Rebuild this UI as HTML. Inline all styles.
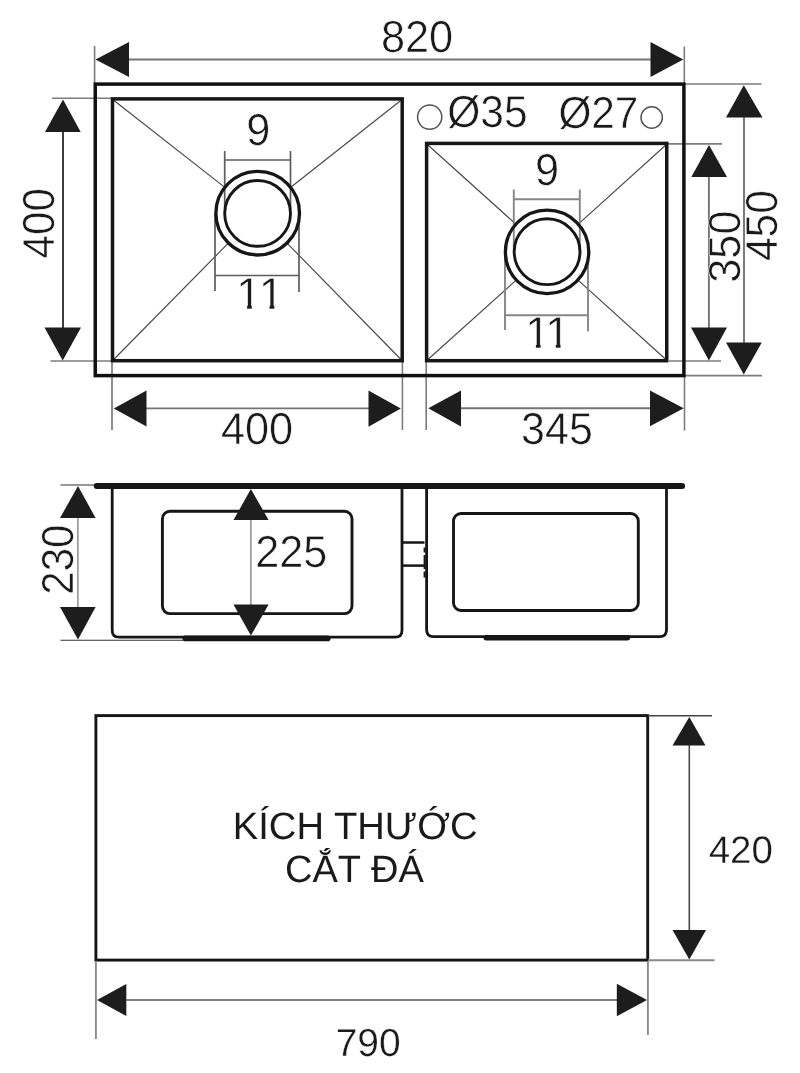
<!DOCTYPE html>
<html lang="vi">
<head>
<meta charset="utf-8">
<title>Kích thước cắt đá</title>
<style>
html,body{margin:0;padding:0;background:#fff;}
body{width:800px;height:1073px;overflow:hidden;}
svg{display:block;will-change:transform;}
svg text{font-family:"Liberation Sans",sans-serif;fill:#1a1a1a;stroke:#fff;stroke-width:0.55px;paint-order:fill stroke;text-rendering:geometricPrecision;}
.k{stroke:#161616;fill:none;}
.d{stroke:#747474;stroke-width:1.9;fill:none;}
.e{stroke:#7c7c7c;stroke-width:1.6;fill:none;}
.a{fill:#1d1d1d;stroke:none;}
.t1{font-size:44.8px;}
.t2{font-size:38px;stroke:none;}
</style>
</head>
<body>
<svg width="800" height="1073" viewBox="0 0 800 1073">
<defs>
  <clipPath id="c11a"><path d="M228,268 H288 V305 H274.3 V312 H269.6 V305 H251.8 V312 H247.1 V305 H228 Z"/></clipPath>
  <clipPath id="c11b"><path d="M518,306 H575 V343.8 H560.5 V351 H555.8 V343.8 H540.6 V351 H535.9 V343.8 H518 Z"/></clipPath>
</defs>
<rect x="0" y="0" width="800" height="1073" fill="#ffffff"/>

<!-- ================= TOP VIEW DIMENSIONS ================= -->
<g id="topdims">
  <!-- 820 -->
  <line class="e" x1="94.6" y1="46" x2="94.6" y2="84"/>
  <line class="e" x1="684.3" y1="46.5" x2="684.3" y2="84"/>
  <line class="d" x1="110" y1="59.5" x2="670" y2="59.5"/>
  <polygon class="a" points="95.5,59.5 129,42 129,77"/>
  <polygon class="a" points="683.3,59.5 650.5,42 650.5,77"/>
  <text class="t1" transform="translate(417 51.7) scale(0.966 1)" text-anchor="middle">820</text>

  <!-- 400 vertical (left) -->
  <line class="e" x1="52" y1="98.2" x2="112" y2="98.2"/>
  <line class="e" x1="50.5" y1="361" x2="112" y2="361"/>
  <line class="d" x1="63" y1="120" x2="63" y2="340" style="stroke:#333"/>
  <polygon class="a" points="63,99.5 45,132 80.7,132"/>
  <polygon class="a" points="62.7,360.5 44.5,327.5 81,327.5"/>
  <text class="t1" transform="translate(54.2 223.2) rotate(-90) scale(0.943 1)" text-anchor="middle">400</text>

  <!-- 400 horizontal -->
  <line class="e" x1="112" y1="362" x2="112" y2="430" style="stroke:#444;stroke-width:1.2"/>
  <line class="e" x1="402.4" y1="361" x2="402.4" y2="430"/>
  <line class="d" x1="130" y1="408.4" x2="385" y2="408.4"/>
  <polygon class="a" points="113.8,408.4 146.5,390.4 146.5,426.6"/>
  <polygon class="a" points="400.8,408.4 368.5,390.4 368.5,426.8"/>
  <text class="t1" transform="translate(257 444.2) scale(0.966 1)" text-anchor="middle">400</text>

  <!-- 345 horizontal -->
  <line class="e" x1="426.2" y1="361" x2="426.2" y2="430"/>
  <line class="e" x1="684.5" y1="377" x2="684.5" y2="430.6"/>
  <line class="d" x1="445" y1="408.3" x2="665" y2="408.3"/>
  <polygon class="a" points="428.3,408.3 461,390.4 461,426.6"/>
  <polygon class="a" points="683.7,408.2 650,390.5 650,426.2"/>
  <text class="t1" transform="translate(557 444) scale(0.96 1)" text-anchor="middle">345</text>

  <!-- 350 vertical -->
  <line class="e" x1="667" y1="143.9" x2="722" y2="143.9"/>
  <line class="e" x1="669" y1="361" x2="721" y2="361"/>
  <line class="d" x1="708.9" y1="165" x2="708.9" y2="340"/>
  <polygon class="a" points="709,145 691.3,177 727,177"/>
  <polygon class="a" points="708.9,360.6 691,327.5 727,327.5"/>
  <text class="t1" transform="translate(739.9 246.6) rotate(-90) scale(0.966 1)" text-anchor="middle">350</text>

  <!-- 450 vertical -->
  <line class="e" x1="685" y1="84" x2="761.6" y2="84"/>
  <line class="e" x1="685" y1="375.6" x2="762" y2="375.6"/>
  <line class="d" x1="744" y1="105" x2="744" y2="355"/>
  <polygon class="a" points="743.8,85.3 726,117.6 762.5,117.6"/>
  <polygon class="a" points="743.8,374.6 726,342.5 761.8,342.5"/>
  <text class="t1" transform="translate(777.4 225.6) rotate(-90) scale(0.95 1)" text-anchor="middle">450</text>
</g>

<!-- ================= TOP VIEW ================= -->
<g id="topview">
  <!-- diagonals left bowl -->
  <g class="d" style="stroke-width:1.15;stroke:#484848">
    <line x1="112.7" y1="99.5" x2="224.8" y2="187.4"/>
    <line x1="402" y1="99.5" x2="290.8" y2="187.3"/>
    <line x1="112.7" y1="360.5" x2="228.3" y2="243.2"/>
    <line x1="402" y1="360.5" x2="287.2" y2="243.3"/>
    <!-- diagonals right bowl -->
    <line x1="426.8" y1="144" x2="515.9" y2="224.2"/>
    <line x1="667" y1="144" x2="578.3" y2="224.1"/>
    <line x1="426.8" y1="360.5" x2="515.9" y2="280.4"/>
    <line x1="667" y1="360.5" x2="578.3" y2="280.4"/>
  </g>
  <!-- 9 / 11 ticks (behind circles) -->
  <g class="e" style="stroke-width:1.7;stroke:#5c5c5c">
    <line x1="224.7" y1="151" x2="224.7" y2="213"/>
    <line x1="290.5" y1="151" x2="290.5" y2="213"/>
    <line x1="224.7" y1="160" x2="290.5" y2="160"/>
    <line x1="215" y1="213" x2="215" y2="291"/>
    <line x1="299" y1="213" x2="299" y2="292"/>
    <line x1="215" y1="275.5" x2="299" y2="275.5"/>
  </g>
  <g class="e" style="stroke-width:1.9;stroke:#868686">
    <line x1="513.8" y1="189.5" x2="513.8" y2="252"/>
    <line x1="579.8" y1="189.5" x2="579.8" y2="252"/>
    <line x1="513.8" y1="199.2" x2="579.8" y2="199.2"/>
    <line x1="505" y1="252" x2="505" y2="330"/>
    <line x1="588" y1="252" x2="588" y2="331.5"/>
    <line x1="505" y1="315.2" x2="588" y2="315.2"/>
  </g>

  <!-- outer rect -->
  <rect class="k" x="95.25" y="84.1" width="588.65" height="291.5" stroke-width="3.5" style="stroke:#111"/>
  <!-- left bowl -->
  <rect class="k" x="112.5" y="98.9" width="289.7" height="261.8" stroke-width="3.5"/>
  <!-- right bowl -->
  <rect class="k" x="426.6" y="143.4" width="240.15" height="217.3" stroke-width="3.5"/>

  <!-- drains -->
  <circle class="k" cx="257.7" cy="213.2" r="41.8" stroke-width="3.3"/>
  <circle class="k" cx="257.6" cy="213.4" r="32.9" stroke-width="2.9"/>
  <circle class="k" cx="547.1" cy="251.9" r="41.7" stroke-width="3.3"/>
  <circle class="k" cx="547.1" cy="251.7" r="32.9" stroke-width="2.9"/>

  <!-- tap holes -->
  <circle cx="429.7" cy="117.1" r="12.1" fill="none" stroke="#555" stroke-width="1.5"/>
  <circle cx="651.7" cy="117.5" r="10.7" fill="none" stroke="#555" stroke-width="1.5"/>

  <text class="t1" transform="translate(447.2 127.3) scale(0.95 1)">Ø35</text>
  <text class="t1" transform="translate(558.4 128.2) scale(0.945 1)">Ø27</text>

  <text class="t1" transform="translate(258.3 145.3) scale(0.966 1)" text-anchor="middle">9</text>
  <text class="t1" x="236.2" y="309.4" letter-spacing="-2.4" style="font-kerning:none" clip-path="url(#c11a)">11</text>
  <text class="t1" transform="translate(547.1 185) scale(0.966 1)" text-anchor="middle">9</text>
  <text class="t1" x="525" y="348.2" letter-spacing="-5" style="font-kerning:none" clip-path="url(#c11b)">11</text>
</g>

<!-- ================= SIDE VIEW ================= -->
<g id="sideview">
  <!-- 230 dim -->
  <line class="e" x1="60.5" y1="485" x2="96" y2="485" style="stroke:#333;stroke-width:1.1"/>
  <line class="e" x1="60.5" y1="640.3" x2="184" y2="640.3" style="stroke:#333;stroke-width:1.1"/>
  <line class="d" x1="77.9" y1="505" x2="77.9" y2="620" style="stroke:#858585;stroke-width:1.4"/>
  <polygon class="a" points="78,486 60,518 95.6,518"/>
  <polygon class="a" points="78,639.6 60,607 95.6,607"/>
  <text class="t1" transform="translate(73.2 559.6) rotate(-90) scale(0.94 1)" text-anchor="middle">230</text>

  <!-- top plate -->
  <line class="k" x1="96.7" y1="486" x2="682.1" y2="486" stroke-width="6" stroke-linecap="round"/>

  <!-- left bowl body -->
  <path class="k" stroke-width="2.8" d="M112.2,487 V630.2 Q112.2,637.2 119.2,637.2 H395 Q402,637.2 402,630.2 V487"/>
  <!-- left window -->
  <rect class="k" x="162.4" y="511.3" width="189.6" height="102.3" rx="7.5" ry="7.5" stroke-width="2.9"/>
  <!-- left drain bar -->
  <line class="k" x1="185.3" y1="638.4" x2="327.8" y2="638.4" stroke-width="5.6" stroke-linecap="round"/>

  <!-- right bowl body -->
  <path class="k" stroke-width="2.8" d="M426.6,487 V629.7 Q426.6,636.7 433.6,636.7 H659.5 Q666.5,636.7 666.5,629.7 V487"/>
  <!-- right window -->
  <rect class="k" x="453.5" y="513.5" width="184.8" height="97" rx="7.5" ry="7.5" stroke-width="2.9"/>
  <!-- right drain bar -->
  <line class="k" x1="486.2" y1="637.8" x2="627.4" y2="637.8" stroke-width="5.5" stroke-linecap="round"/>

  <!-- connector -->
  <line class="k" x1="402" y1="542.5" x2="424.5" y2="542.5" stroke-width="2.5"/>
  <line class="k" x1="402" y1="565.6" x2="424.5" y2="565.6" stroke-width="2.5"/>
  <line class="k" x1="424.6" y1="547.5" x2="424.6" y2="577.5" stroke-width="2" stroke-dasharray="5 2.5 14 2.5 6 0"/>

  <!-- 225 dim -->
  <line class="d" x1="250.9" y1="510" x2="250.9" y2="615" style="stroke:#858585;stroke-width:1.4"/>
  <polygon class="a" points="250.9,489 233.5,520 268.6,520"/>
  <polygon class="a" points="250.9,635.6 233.5,604.6 268.6,604.6"/>
  <text class="t1" transform="translate(291.3 567.3) scale(0.966 1)" text-anchor="middle">225</text>
</g>

<!-- ================= CUT-OUT ================= -->
<g id="cutout">
  <rect class="k" x="95.9" y="715.6" width="551.8" height="244.5" stroke-width="2.9"/>
  <text class="t2" transform="translate(355.2 838.6) scale(1.004 1)" text-anchor="middle">KÍCH THƯỚC</text>
  <text class="t2" x="354.4" y="881.5" text-anchor="middle">CẮT ĐÁ</text>

  <!-- 420 dim -->
  <line class="e" x1="648" y1="715.7" x2="712" y2="715.7" style="stroke:#444"/>
  <line class="e" x1="648" y1="960.3" x2="714.5" y2="960.3" style="stroke:#8a8a8a;stroke-width:1.9"/>
  <line class="d" x1="689.3" y1="735" x2="689.3" y2="940" style="stroke:#4a4a4a;stroke-width:1.6"/>
  <polygon class="a" points="689.3,717 672.5,745.5 705.5,745.5"/>
  <polygon class="a" points="689.3,959.5 672.5,930 706,930"/>
  <text x="740.8" y="863.4" text-anchor="middle" style="font-size:38.5px;stroke-width:0.35px">420</text>

  <!-- 790 dim -->
  <line class="e" x1="95.9" y1="961" x2="95.9" y2="1039" style="stroke:#8a8a8a;stroke-width:1.9"/>
  <line class="e" x1="647.9" y1="961" x2="647.9" y2="1035" style="stroke:#8a8a8a;stroke-width:1.9"/>
  <line class="d" x1="115" y1="1000" x2="630" y2="1000" style="stroke:#808080;stroke-width:1.9"/>
  <polygon class="a" points="97,1000 126.3,984 126.3,1016"/>
  <polygon class="a" points="647,1000 616.8,983.8 616.8,1016.2"/>
  <text x="368.2" y="1056.2" text-anchor="middle" style="font-size:39px;stroke-width:0.35px">790</text>
</g>
</svg>
</body>
</html>
